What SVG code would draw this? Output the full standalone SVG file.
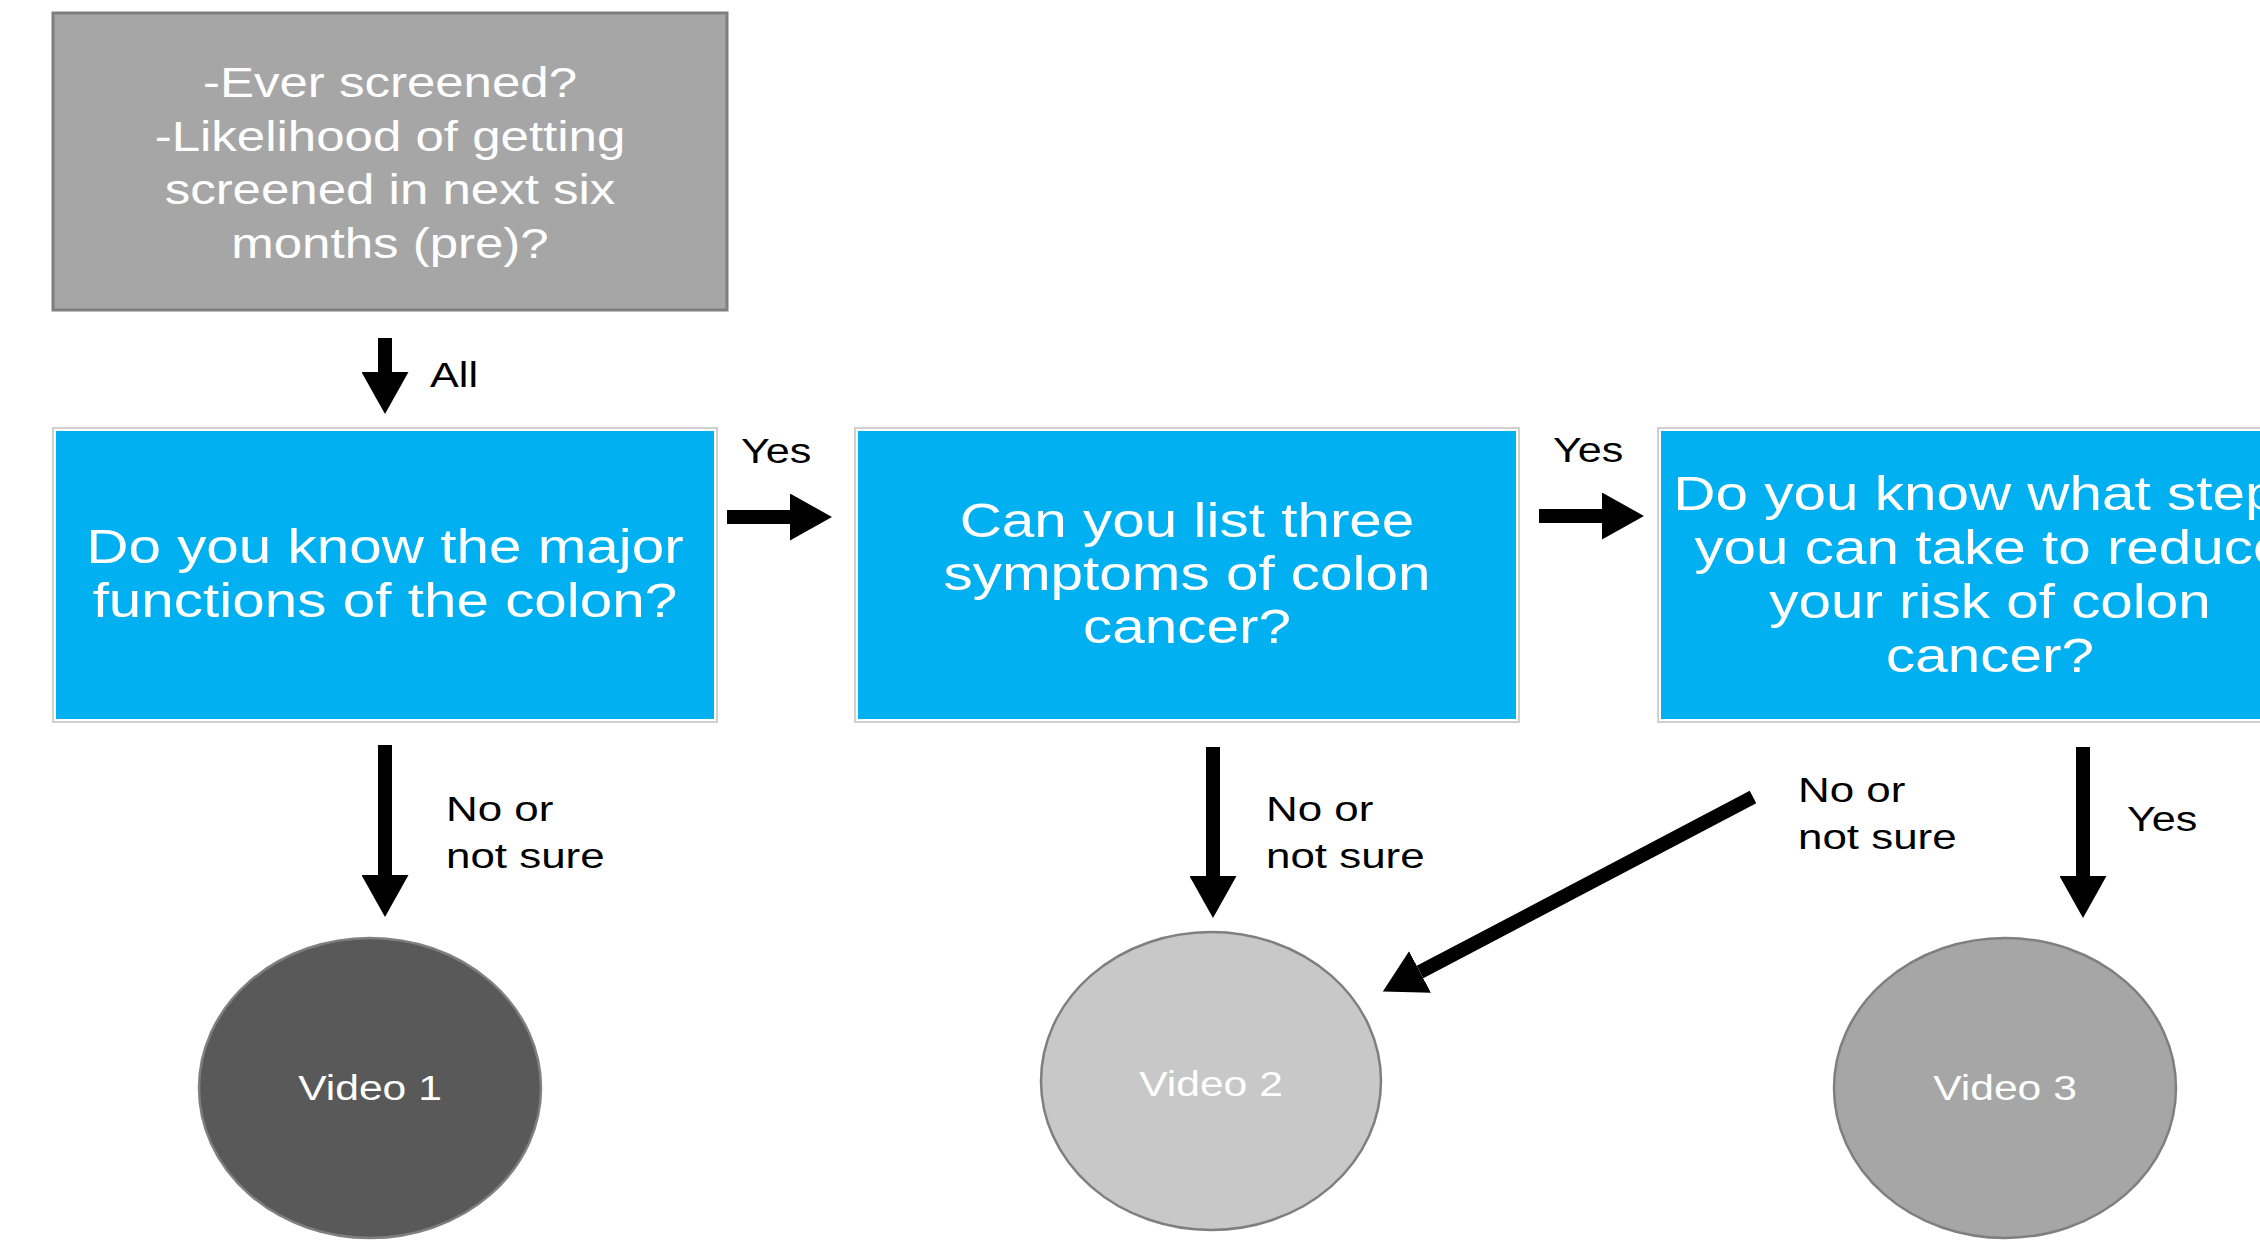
<svg xmlns="http://www.w3.org/2000/svg" width="2260" height="1240" viewBox="0 0 2260 1240">
<style>
  text { font-family: "Liberation Sans", Arial, sans-serif; }
  .w { fill: #FFFFFF; text-anchor: middle; }
  .q { font-size: 48.7px; }
  .pre { font-size: 42.5px; }
  .vid { font-size: 35.5px; }
  .lbl { font-size: 36px; fill: #000000; }
  .outer { fill: #FFFFFF; stroke: #D0D0D0; stroke-width: 2; }
  .blue { fill: #00B0F0; }
  .shaft { stroke: #000000; stroke-width: 14; fill: none; marker-end: url(#ah); }
  .ell { stroke: #7F7F7F; stroke-width: 2.5; }
</style>
<defs>
  <marker id="ah" markerUnits="userSpaceOnUse" markerWidth="42" markerHeight="47" refX="0" refY="23.5" orient="auto">
    <path d="M0,0 L42,23.5 L0,47 z" fill="#000000"/>
  </marker>
</defs>
<rect width="2260" height="1240" fill="#FFFFFF"/>

<g id="pre">
  <rect x="53" y="13" width="674" height="297" fill="#A6A6A6" stroke="#7F7F7F" stroke-width="3"/>
  <g class="w pre" transform="matrix(1.2 0 0 1 -78 0)">
    <text x="390" y="97">-Ever screened?</text>
    <text x="390" y="151">-Likelihood of getting</text>
    <text x="390" y="204">screened in next six</text>
    <text x="390" y="258">months (pre)?</text>
  </g>
</g>

<g id="q1">
  <rect class="outer" x="53" y="428" width="664" height="294"/>
  <rect class="blue" x="56" y="431" width="658" height="288"/>
  <g class="w q" transform="matrix(1.2 0 0 1 -77 0)">
    <text x="385" y="563">Do you know the major</text>
    <text x="385" y="617">functions of the colon?</text>
  </g>
</g>

<g id="q2">
  <rect class="outer" x="855" y="428" width="664" height="294"/>
  <rect class="blue" x="858" y="431" width="658" height="288"/>
  <g class="w q" transform="matrix(1.2 0 0 1 -237.4 0)">
    <text x="1187" y="537">Can you list three</text>
    <text x="1187" y="590">symptoms of colon</text>
    <text x="1187" y="643">cancer?</text>
  </g>
</g>

<g id="q3">
  <rect class="outer" x="1658" y="428" width="664" height="294"/>
  <rect class="blue" x="1661" y="431" width="658" height="288"/>
  <g class="w q" transform="matrix(1.2 0 0 1 -398 0)">
    <text x="1990" y="510">Do you know what steps</text>
    <text x="1990" y="564">you can take to reduce</text>
    <text x="1990" y="618">your risk of colon</text>
    <text x="1990" y="672">cancer?</text>
  </g>
</g>

<g id="video1">
  <ellipse class="ell" cx="370" cy="1088" rx="171" ry="150" fill="#595959"/>
  <text class="w vid" x="370" y="1100" transform="matrix(1.2 0 0 1 -74 0)">Video 1</text>
</g>

<g id="video2">
  <ellipse class="ell" cx="1211" cy="1081" rx="170" ry="149" fill="#C8C8C8"/>
  <text class="w vid" x="1211" y="1096" transform="matrix(1.2 0 0 1 -242.2 0)">Video 2</text>
</g>

<g id="video3">
  <ellipse class="ell" cx="2005" cy="1088" rx="171" ry="150" fill="#A6A6A6"/>
  <text class="w vid" x="2005" y="1100" transform="matrix(1.2 0 0 1 -401 0)">Video 3</text>
</g>

<g id="connectors">
  <line class="shaft" x1="385" y1="338" x2="385" y2="372"/>
  <line class="shaft" x1="727" y1="517" x2="790" y2="517"/>
  <line class="shaft" x1="1539" y1="516" x2="1602" y2="516"/>
  <line class="shaft" x1="385" y1="745" x2="385" y2="875"/>
  <line class="shaft" x1="1213" y1="747" x2="1213" y2="876"/>
  <line class="shaft" x1="2083" y1="747" x2="2083" y2="876"/>
  <line class="shaft" x1="1753" y1="797" x2="1420" y2="972"/>

  <text class="lbl" x="430" y="387" transform="matrix(1.2 0 0 1 -86 0)">All</text>
  <text class="lbl" x="741" y="463" transform="matrix(1.2 0 0 1 -148.2 0)">Yes</text>
  <text class="lbl" x="1553" y="462" transform="matrix(1.2 0 0 1 -310.6 0)">Yes</text>
  <g class="lbl" transform="matrix(1.22 0 0 1 -98.12 0)">
    <text x="446" y="821">No or</text>
    <text x="446" y="868">not sure</text>
  </g>
  <g class="lbl" transform="matrix(1.22 0 0 1 -278.52 0)">
    <text x="1266" y="821">No or</text>
    <text x="1266" y="868">not sure</text>
  </g>
  <g class="lbl" transform="matrix(1.22 0 0 1 -395.56 0)">
    <text x="1798" y="802">No or</text>
    <text x="1798" y="849">not sure</text>
  </g>
  <text class="lbl" x="2127" y="831" transform="matrix(1.2 0 0 1 -425.4 0)">Yes</text>
</g>
</svg>
